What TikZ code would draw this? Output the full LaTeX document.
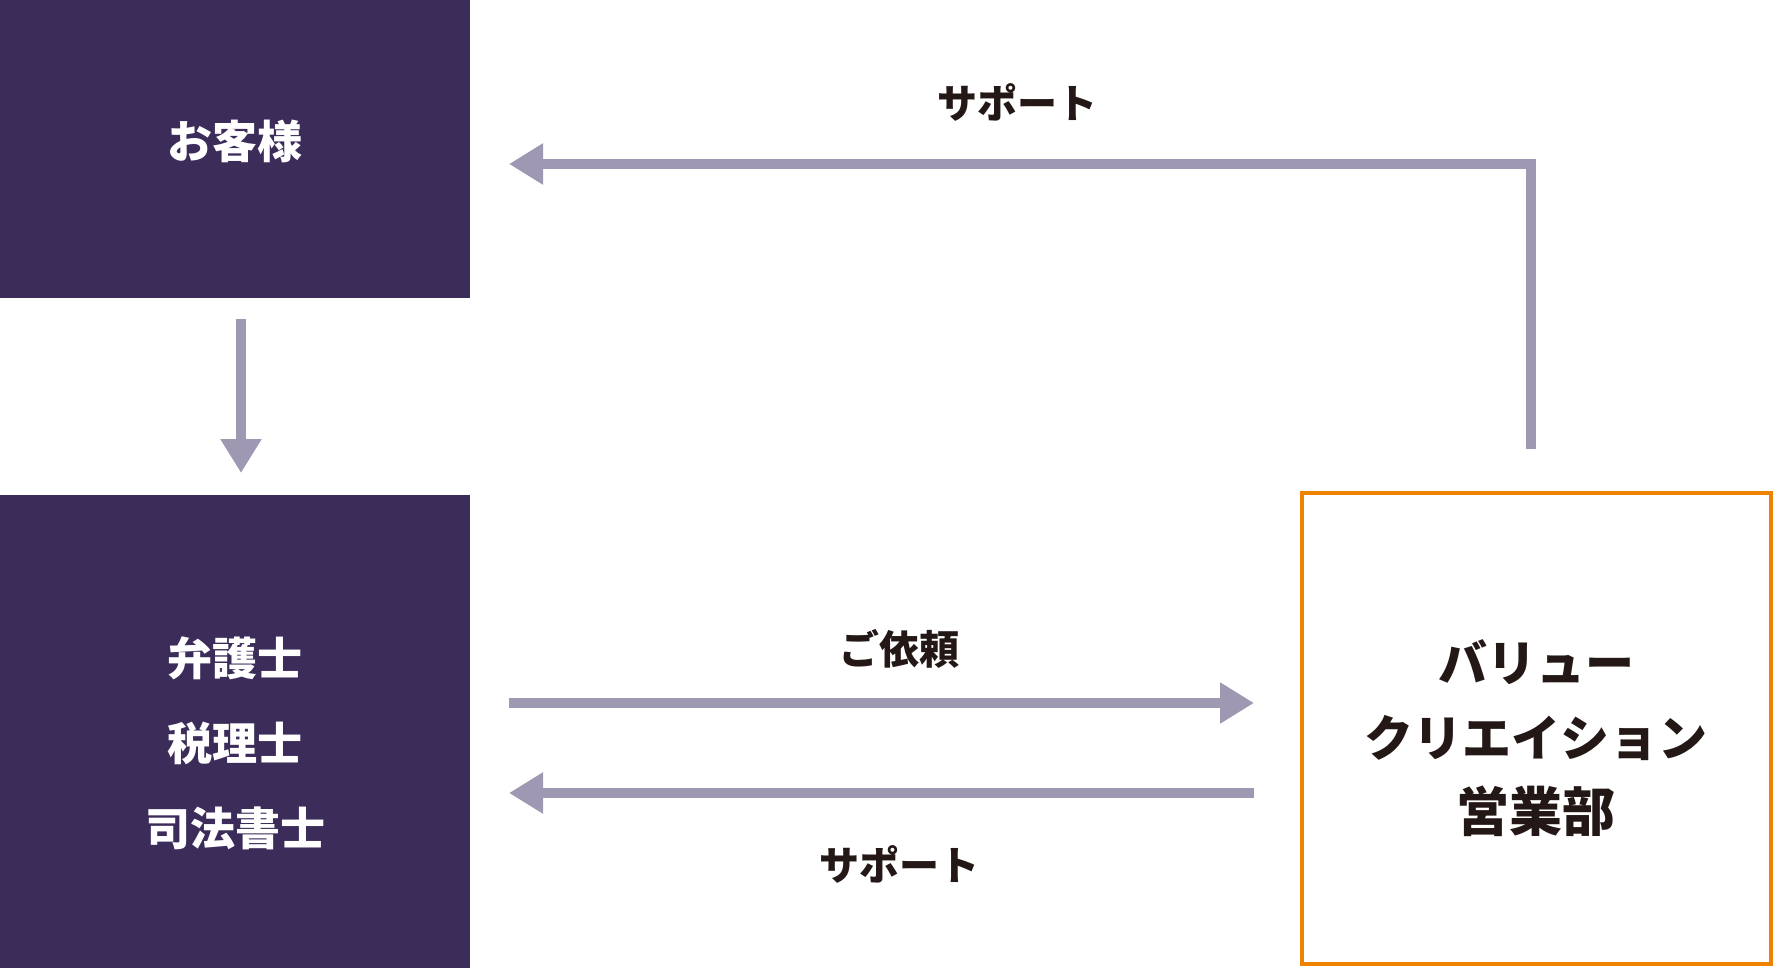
\documentclass[tikz,border=0pt]{standalone}
\usepackage{fontspec}
\setmainfont{Noto Sans CJK JP}
\usetikzlibrary{arrows.meta}
\definecolor{boxpurple}{HTML}{3C2C5A}
\definecolor{arrowgray}{HTML}{9F98B2}
\definecolor{inkblack}{HTML}{231815}
\definecolor{vcorange}{HTML}{EE8300}
\tikzset{
  darkbox/.style={draw=none, fill=boxpurple, inner sep=0pt, outer sep=0pt},
  orangebox/.style={draw=vcorange, line width=4pt, fill=none, inner sep=0pt, outer sep=0pt},
  whitetext/.style={text=white, font=\bfseries\fontsize{45}{85}\selectfont, align=center, inner sep=0pt},
  blacktext/.style={text=inkblack, font=\bfseries\fontsize{49}{75}\selectfont, align=center, inner sep=0pt},
  lbl/.style={text=inkblack, font=\bfseries\fontsize{40}{48}\selectfont, inner sep=0pt},
  flowarrow/.style={draw=arrowgray, line width=10pt, -{Triangle[length=34pt,width=39pt]}}
}
\begin{document}
\begin{tikzpicture}[x=1pt,y=-1pt]
\useasboundingbox (0,0) rectangle (1775,968);
% boxes
\node[darkbox, minimum width=470pt, minimum height=298pt, anchor=north west] (customer) at (0,0) {};
\node[darkbox, minimum width=470pt, minimum height=473pt, anchor=north west] (pros) at (0,495) {};
\node[orangebox, minimum width=469pt, minimum height=471pt, anchor=north west] (vc) at (1302,493) {};
% texts
\node[whitetext] (tcustomer) at (235,141) {お客様};
\node[whitetext] (tpros) at (235,743) {弁護士\\税理士\\司法書士};
\node[blacktext] (tvc) at (1536,738) {バリュー\\クリエイション\\{\fontsize{53}{75}\selectfont 営業部}};
% connector end points
\coordinate (dstart) at (241,319);
\coordinate (dend) at (241,473);
\coordinate (ustart) at (1531,449);
\coordinate (ucorner) at (1531,164);
\coordinate (uend) at (509,164);
\coordinate (rstart) at (509,703);
\coordinate (rend) at (1254,703);
\coordinate (lstart) at (1254,793);
\coordinate (lend) at (509,793);
% arrows
\draw[flowarrow] (dstart) -- (dend);
\draw[flowarrow] (ustart) -- (ucorner) -- (uend);
\draw[flowarrow] (rstart) -- (rend);
\draw[flowarrow] (lstart) -- (lend);
% labels
\node[lbl] (ltop) at (1017,102) {サポート};
\node[lbl] (lreq) at (899,649) {ご依頼};
\node[lbl] (lbot) at (899,864) {サポート};
\end{tikzpicture}
\end{document}
